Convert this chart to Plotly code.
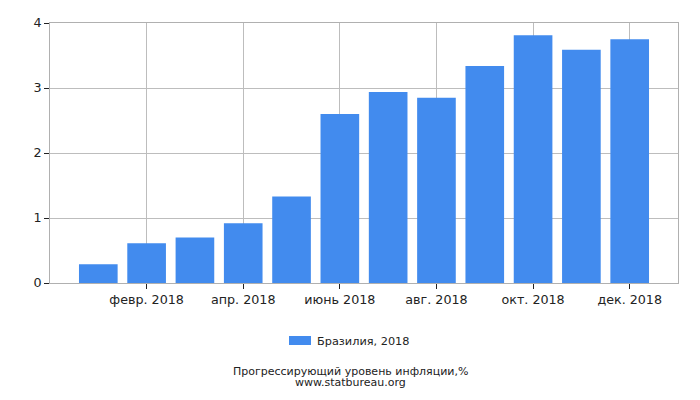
import plotly.graph_objects as go

months = ["янв. 2018", "февр. 2018", "март 2018", "апр. 2018", "май 2018", "июнь 2018",
          "июль 2018", "авг. 2018", "сент. 2018", "окт. 2018", "нояб. 2018", "дек. 2018"]
values = [0.29, 0.61, 0.70, 0.92, 1.33, 2.60, 2.94, 2.85, 3.34, 3.81, 3.59, 3.75]
tick_labels = ["февр. 2018", "апр. 2018", "июнь 2018", "авг. 2018", "окт. 2018", "дек. 2018"]
series_name = "Бразилия, 2018"
title_lines = ["Прогрессирующий уровень инфляции,%", "www.statbureau.org"]

FONT = "DejaVu Sans"
BAR_COLOR = "#428bee"
OFF = 8  # page body margin offset
W, H = 700, 400
ML, MT = 50 - OFF, 23 - OFF
MR = W - (678 - OFF)
MB = H - (283 - OFF)
PH = H - MT - MB
PW = W - ML - MR


def py(pix):
    # page pixel row -> paper y
    return (H - MB - (pix - OFF)) / PH


def px(pix):
    return ((pix - OFF) - ML) / PW


fig = go.Figure()
fig.add_trace(go.Bar(
    x=months, y=values, name=series_name,
    marker=dict(color=BAR_COLOR, line=dict(width=0)),
    width=0.8,
    showlegend=False,
))

fig.update_layout(
    width=W, height=H,
    margin=dict(l=ML, r=MR, t=MT, b=MB, autoexpand=False),
    paper_bgcolor="white", plot_bgcolor="white",
    font=dict(family=FONT, size=13, color="#222"),
    showlegend=False,
)
fig.update_xaxes(
    type="category", automargin=False,
    range=[-1, 12],
    tickmode="array", tickvals=tick_labels, ticktext=tick_labels,
    showgrid=True, gridcolor="#bdbdbd", gridwidth=1,
    showline=True, linecolor="#b0b0b0", mirror=True,
    ticks="outside", ticklen=5, tickcolor="#222",
    tickfont=dict(family=FONT, size=12.7, color="#222"),
)
fig.update_yaxes(
    range=[0, 4], tickvals=[0, 1, 2, 3, 4], automargin=False,
    showgrid=True, gridcolor="#bdbdbd", gridwidth=1,
    showline=True, linecolor="#b0b0b0", mirror=True,
    ticks="outside", ticklen=5, tickcolor="#222",
    tickfont=dict(family=FONT, size=12.7, color="#222"),
    zeroline=False,
)
# legend swatch + label
fig.add_shape(type="rect", xref="paper", yref="paper",
              x0=px(289), x1=px(311), y0=py(345), y1=py(336),
              fillcolor=BAR_COLOR, line=dict(width=0))
fig.add_annotation(text=series_name, xref="paper", yref="paper",
                   x=px(315), y=py(341), xanchor="left", yanchor="middle", showarrow=False,
                   font=dict(family=FONT, size=11.3, color="#222"))
fig.add_annotation(text=title_lines[0], xref="paper", yref="paper",
                   x=px(350), y=py(371), xanchor="center", yanchor="middle", showarrow=False,
                   font=dict(family=FONT, size=11, color="#222"))
fig.add_annotation(text=title_lines[1], xref="paper", yref="paper",
                   x=px(350), y=py(382), xanchor="center", yanchor="middle", showarrow=False,
                   font=dict(family=FONT, size=11, color="#222"))

fig.write_html("out.html")
